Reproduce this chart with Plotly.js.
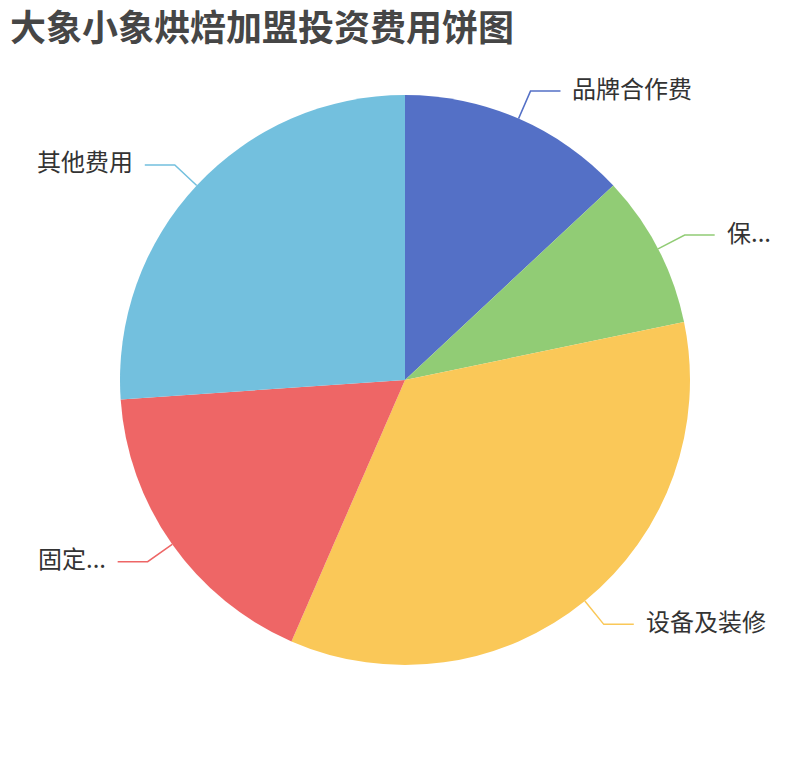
<!DOCTYPE html>
<html>
<head>
<meta charset="utf-8">
<script src="https://cdn.plot.ly/plotly-3.0.1.min.js"></script>
<style>
  html, body { margin: 0; padding: 0; background: #fff; }
  #chart { width: 810px; height: 760px; }
</style>
</head>
<body>
<div id="chart"></div>
<script>
// data (万元)
let categories = ["品牌合作费", "保证金", "设备及装修", "固定费用", "其他费用"];
let shownLabels = ["品牌合作费", "保...", "设备及装修", "固定...", "其他费用"];
let values = [3, 2, 8, 4, 6];
let colors = ["#5470c6", "#91cc75", "#fac858", "#ee6666", "#73c0de"];

const W = 810, H = 760;
const cx = 405, cy = 380, R = 285;
const len1 = 30, len2 = 30, gap = 10;

function px(x){ return x / W; }
function py(y){ return 1 - y / H; }

// leader lines + labels, placed at each slice's mid angle
let total = values.reduce((a, b) => a + b, 0);
let shapes = [];
let annotations = [];
let acc = 0;
for(let i = 0; i < values.length; i++){
    let mid = (acc + values[i] / 2) / total * 2 * Math.PI;
    acc += values[i];
    let s = Math.sin(mid), c = Math.cos(mid);
    let x0 = cx + R * s, y0 = cy - R * c;
    let x1 = cx + (R + len1) * s, y1 = cy - (R + len1) * c;
    let right = s >= 0;
    let x2 = x1 + (right ? len2 : -len2);
    shapes.push({
        type: 'path', xref: 'paper', yref: 'paper',
        path: 'M' + px(x0) + ',' + py(y0) + ' L' + px(x1) + ',' + py(y1) + ' L' + px(x2) + ',' + py(y1),
        line: {color: colors[i], width: 1.5}
    });
    annotations.push({
        xref: 'paper', yref: 'paper',
        x: px(x2 + (right ? gap : -gap)), y: py(y1),
        xanchor: right ? 'left' : 'right', yanchor: 'middle', yshift: 4,
        text: shownLabels[i], showarrow: false,
        font: {size: 24, color: '#333333', family: '"Noto Sans CJK SC", sans-serif'}
    });
}

Plotly.newPlot('chart', [{
    type: 'pie',
    labels: categories,
    values: values,
    sort: false,
    direction: 'clockwise',
    rotation: 0,
    textinfo: 'none',
    hoverinfo: 'label+value+percent',
    marker: {colors: colors, line: {width: 0}},
    domain: {x: [px(cx - R), px(cx + R)], y: [py(cy + R), py(cy - R)]}
}], {
    width: W, height: H,
    margin: {l: 0, r: 0, t: 0, b: 0},
    paper_bgcolor: '#ffffff',
    showlegend: false,
    title: {
        text: '大象小象烘焙加盟投资费用饼图',
        x: px(10), xanchor: 'left', xref: 'paper',
        y: py(28), yanchor: 'middle', yref: 'paper',
        font: {size: 36, color: '#464646', weight: 'bold', family: '"Noto Sans CJK SC", sans-serif'}
    },
    shapes: shapes,
    annotations: annotations
}, {displayModeBar: false});
</script>
</body>
</html>
